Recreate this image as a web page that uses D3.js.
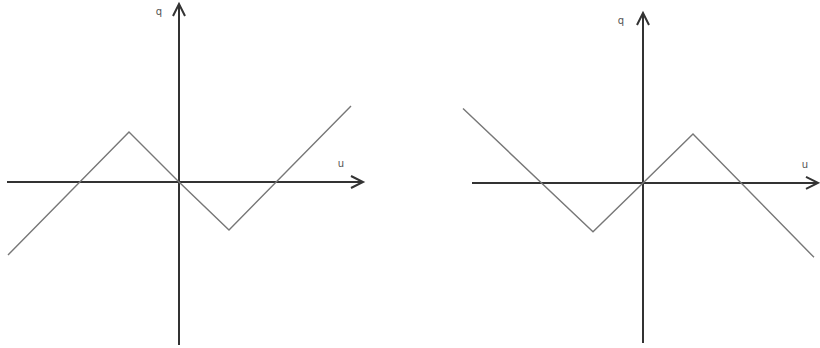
<!DOCTYPE html>
<html>
<head>
<meta charset="utf-8">
<script src="https://cdn.jsdelivr.net/npm/d3@7"></script>
<style>
  body { margin: 0; background: #fff; }
  svg { display: block; }
  .lbl { font-family: "DejaVu Sans", sans-serif; font-size: 10px; fill: #555; }
</style>
</head>
<body>
<div id="chart"></div>
<script>
// Breakpoints of the two curves (u, q)
const leftU = [-3.42, -1, 0, 1, 3.44];
const leftQ = [-1.46, 1, 0, -0.96, 1.52];
const rightU = [-3.6, -1, 0, 1, 3.42];
const rightQ = [1.52, -1, 0, 1, -1.52];
const axisLabels = ["u", "q"];

const svg = d3.select("#chart")
    .append("svg")
    .attr("width", 820)
    .attr("height", 348);

// Each panel: its own scales, axes through the origin
const panels = [
    { u: leftU, q: leftQ, xd: [-3.44, 3.68], xr: [7, 363], yd: [-3.26, 3.56], yr: [345, 4],
      qPos: [-0.4, 3.34], uPos: [3.24, 0.3] },
    { u: rightU, q: rightQ, xd: [-3.42, 3.5], xr: [472, 818], yd: [-3.27, 3.47], yr: [343, 13],
      qPos: [-0.44, 3.24], uPos: [3.24, 0.3] }
];

panels.forEach(p => {
    const x = d3.scaleLinear().domain(p.xd).range(p.xr);
    const y = d3.scaleLinear().domain(p.yd).range(p.yr);
    const g = svg.append("g");

    const x0 = x(0), y0 = y(0);
    const axisColor = "#333";

    // horizontal axis with open arrow
    g.append("line")
        .attr("x1", p.xr[0]).attr("x2", p.xr[1])
        .attr("y1", y0).attr("y2", y0)
        .attr("stroke", axisColor).attr("stroke-width", 2);
    g.append("path")
        .attr("d", `M${p.xr[1] - 12},${y0 - 6}L${p.xr[1]},${y0}L${p.xr[1] - 12},${y0 + 6}`)
        .attr("fill", "none").attr("stroke", axisColor).attr("stroke-width", 2);

    // vertical axis with open arrow
    g.append("line")
        .attr("x1", x0).attr("x2", x0)
        .attr("y1", p.yr[0]).attr("y2", p.yr[1])
        .attr("stroke", axisColor).attr("stroke-width", 2);
    g.append("path")
        .attr("d", `M${x0 - 6},${p.yr[1] + 12}L${x0},${p.yr[1]}L${x0 + 6},${p.yr[1] + 12}`)
        .attr("fill", "none").attr("stroke", axisColor).attr("stroke-width", 2);

    // curve
    const pts = p.u.map((u, i) => [u, p.q[i]]);
    g.append("path")
        .datum(pts)
        .attr("fill", "none")
        .attr("stroke", "#777")
        .attr("stroke-width", 1.4)
        .attr("d", d3.line().x(d => x(d[0])).y(d => y(d[1])));

    // labels
    g.append("text").attr("class", "lbl")
        .attr("x", x(p.uPos[0])).attr("y", y(p.uPos[1]))
        .attr("text-anchor", "middle")
        .text(axisLabels[0]);
    g.append("text").attr("class", "lbl")
        .attr("x", x(p.qPos[0])).attr("y", y(p.qPos[1]))
        .attr("text-anchor", "middle")
        .text(axisLabels[1]);
});
</script>
</body>
</html>
